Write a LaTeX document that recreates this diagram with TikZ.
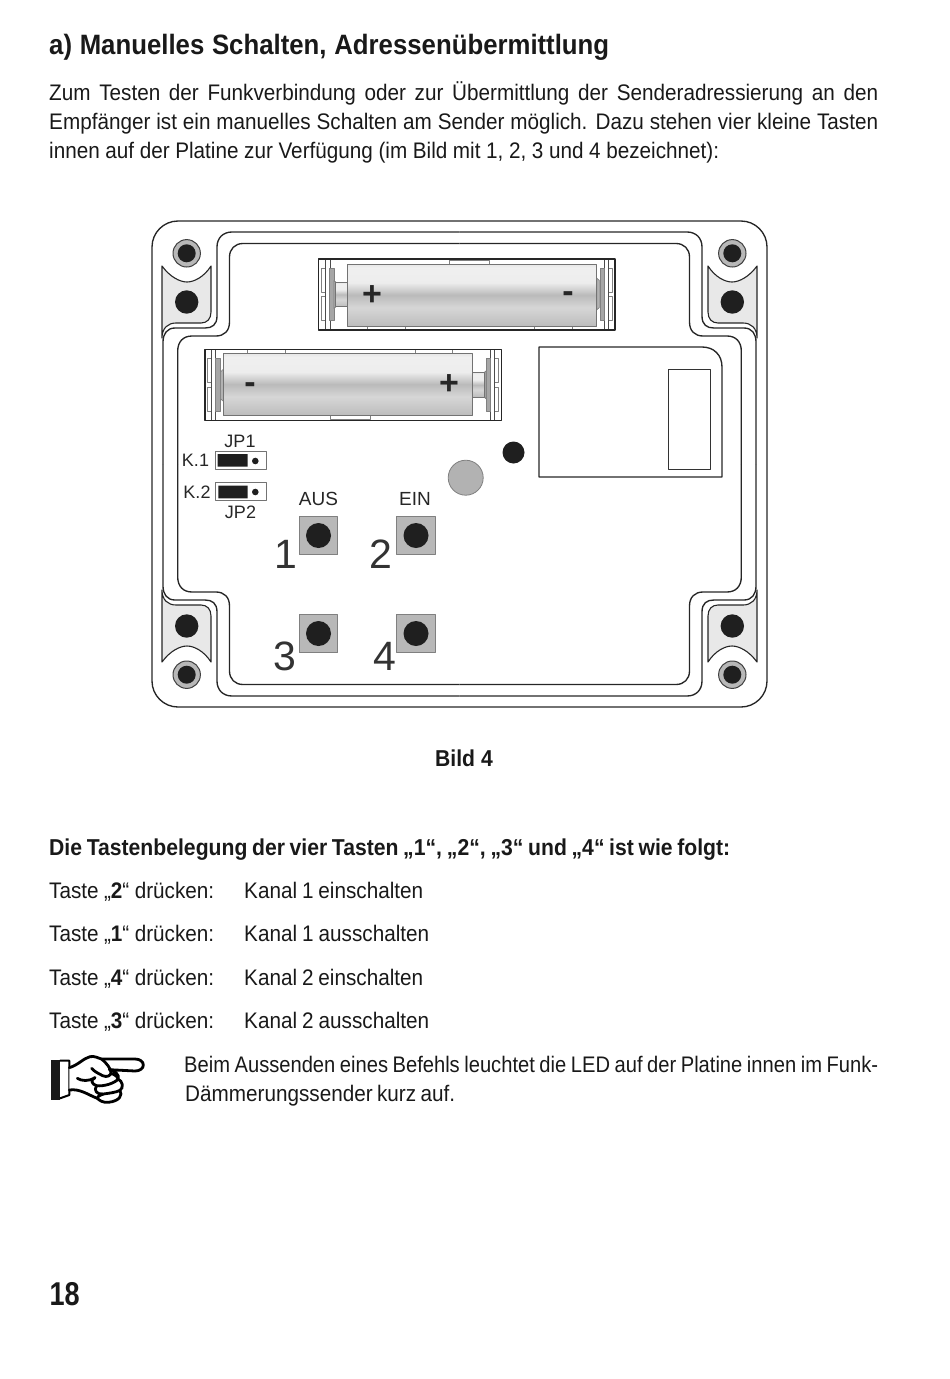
\documentclass[tikz,border=0pt]{standalone}
\usepackage{fontspec}
\setmainfont{Liberation Sans}
\newfontfamily\narrowfont[FakeStretch=0.92]{Liberation Sans}
\newfontfamily\notefont[FakeStretch=0.895]{Liberation Sans}
\newfontfamily\slimfont[FakeStretch=0.82]{Liberation Sans}
\pgfdeclareverticalshading{cellshade}{100bp}{color(0bp)=(black!40); color(12bp)=(black!35); color(25bp)=(black!26); color(40bp)=(black!16); color(50bp)=(black!27); color(60bp)=(black!7); color(72bp)=(black!6); color(86bp)=(black!24); color(100bp)=(black!38)}
\newcommand{\fitline}[2]{\makebox[#1][s]{#2}}
\newcommand{\cellholder}{%
\draw[tabline] (-145.4,-26.2) rectangle (-141,-2.2) (-145.4,2.2) rectangle (-141,26.2)
(141.6,-26.2) rectangle (146,-2.2) (141.6,2.2) rectangle (146,26.2)
(-17.4,-34.5) rectangle (22.6,-30.5) (-99.4,31.5) rectangle (-61.7,35.5) (67.6,31.5) rectangle (106,35.5);
\draw[thinline] (-141,-35.5)--(-141,35.5) (-136.7,-35.5)--(-136.7,35.5) (141.6,-35.5)--(141.6,35.5) (137.6,-35.5)--(137.6,35.5);
\draw[tabline,fill=black!35] (-137.4,-26.5) rectangle (-132.7,26.2) (133.3,-26.5) rectangle (137.6,26.2);
\draw[tabline,fill=black!30] (-132.7,-14)--(-130.5,-12)--(-130.5,12)--(-132.7,14)--cycle (130,-16.5)--(132.7,-14)--(132.7,13)--(130,15.5)--cycle;
\shade[shading=cellshade,draw=black!55,line width=0.6pt] (-131,-12.2) rectangle (-119,12.2);
\shade[shading=cellshade,draw=black!55,line width=0.6pt] (-119,-30.5) rectangle (130,31.5);
\draw[frameline] (-148.4,-35.5) rectangle (148.3,35.5);
}
\begin{document}
\begin{tikzpicture}[x=1pt,y=-1pt,line join=round,
frameline/.style={line width=1.35pt,black!85},
thinline/.style={line width=0.7pt,black!70},
tabline/.style={line width=0.6pt,black!50},
padfill/.style={draw=black!85,line width=1.1pt,fill=black!9},
hole/.style={fill=black!88},
btnpad/.style={draw=black!50,line width=0.7pt,fill=black!28},
txt/.style={anchor=base west,inner sep=0pt,font=\narrowfont\fontsize{22.5}{28}\selectfont,text=black!90},
notetxt/.style={txt,font=\notefont\fontsize{22.5}{28}\selectfont},
lbl/.style={inner sep=0pt,font=\fontsize{18}{20}\selectfont,text=black!85},
bignum/.style={inner sep=0pt,font=\fontsize{41}{44}\selectfont,text=black!80},
polarity/.style={inner sep=0pt,font=\bfseries\fontsize{34}{34}\selectfont,text=black!85},
handline/.style={line width=2.8pt,line cap=round,fill=white}]
\useasboundingbox (0,0) rectangle (950,1379);
% text above
\node[txt,font=\narrowfont\bfseries\fontsize{28}{30}\selectfont] (title) at (49,54) {\fitline{560pt}{a) Manuelles Schalten, Adressenübermittlung}};
\node[txt] (introa) at (49,100) {\fitline{829pt}{Zum Testen der Funkverbindung oder zur Übermittlung der Senderadressierung an den}};
\node[txt] (introb) at (49,129) {\fitline{829pt}{Empfänger ist ein manuelles Schalten am Sender möglich. Dazu stehen vier kleine Tasten}};
\node[txt] (introc) at (49,158) {\fitline{670pt}{innen auf der Platine zur Verfügung (im Bild mit 1, 2, 3 und 4 bezeichnet):}};
% housing
\draw[frameline] (152,221) [rounded corners=26pt] rectangle (767,707);
\foreach \sx/\sy in {1/1,-1/1,1/-1,-1/-1}{
\begin{scope}[shift={(459.5,464)},xscale=\sx,yscale=\sy,shift={(-459.5,-464)}]
\draw[padfill] (162,266) .. controls (170,277) and (180,282) .. (187,282) .. controls (194,282) and (204,277) .. (211,266)
--(211,312) .. controls (211,319) and (207,323) .. (201,323) --(176,323) .. controls (168,323) and (162,328) .. (162,338) --cycle;
\draw[frameline] (459.5,232)--(232,232) .. controls (223,232) and (217,238) .. (217,247) --(217,316) .. controls (217,325) and (212,328) .. (205,328)
--(175,328) .. controls (167,328) and (163,334) .. (163,342) --(163,464);
\draw[frameline] (459.5,243.5)--(243,243.5) .. controls (235,243.5) and (229.5,249) .. (229.5,257) --(229.5,322) .. controls (229.5,331) and (224,336) .. (216,336)
--(192,336) .. controls (183,336) and (177.7,342) .. (177.7,351) --(177.7,464);
\fill[hole] (186.7,302) circle (11.7);
\draw[line width=1pt,black!75,fill=black!28] (186.7,253.3) circle (13.7);
\fill[hole] (186.7,253.3) circle (9);
\end{scope}
}
% battery holders
\begin{scope}[shift={(466.7,294.5)}]
\cellholder
\end{scope}
\begin{scope}[shift={(353.3,384.8)},rotate=180]
\cellholder
\end{scope}
\node[polarity] (plusa) at (372,295.5) {+};
\node[polarity] (minusa) at (568,297) {-};
\node[polarity] (minusb) at (250,388) {-};
\node[polarity] (plusb) at (449,384.5) {+};
% radio module
\draw[frameline] (539,347)--(702,347) .. controls (714,347) and (722,355) .. (722,367)--(722,477)--(539,477)--cycle;
\draw[line width=1pt,black!80] (668,369) rectangle (710,469);
% jumpers
\draw[line width=0.7pt,black!55] (215,451.7) rectangle (266,469.3) (215,482.7) rectangle (266,500.7);
\fill[hole] (217.7,454) rectangle (247.7,466.7) (218.3,485.7) rectangle (247.7,498.3);
\fill[hole] (255.3,461) circle (3.3) (255.3,492) circle (3.3);
\node[lbl] (jpa) at (240,441.5) {JP1};
\node[lbl] (ka) at (195.5,460) {K.1};
\node[lbl] (kb) at (197,492) {K.2};
\node[lbl] (jpb) at (240.5,512) {JP2};
\node[lbl,font=\fontsize{19}{20}\selectfont] (aus) at (318.5,498.5) {AUS};
\node[lbl,font=\fontsize{19}{20}\selectfont] (ein) at (415,498.5) {EIN};
% led
\draw[line width=0.8pt,black!50,fill=black!30] (465.7,477.7) circle (17.5);
\fill[hole] (513.5,452.5) circle (11);
% keys
\foreach \x/\y in {318.5/535.5,416/535.5,318.5/633.5,416/633.5}{
\draw[btnpad] (\x-19.2,\y-19) rectangle (\x+19.2,\y+19);
\fill[hole] (\x,\y) circle (12.5);
}
\node[bignum] (numa) at (285.5,554.5) {1};
\node[bignum] (numb) at (381,554.5) {2};
\node[bignum] (numc) at (285,656.5) {3};
\node[bignum] (numd) at (385,656.5) {4};
% text below
\node[txt,anchor=base,font=\narrowfont\bfseries\fontsize{23}{28}\selectfont] (caption) at (464,766) {Bild 4};
\node[txt,font=\narrowfont\bfseries\fontsize{23}{28}\selectfont] (keyhead) at (49,855) {\fitline{681pt}{Die Tastenbelegung der vier Tasten „1“, „2“, „3“ und „4“ ist wie folgt:}};
\node[txt] (keya) at (49,898) {\fitline{165pt}{Taste „\textbf{2}“ drücken:}};
\node[txt] (kanala) at (244,898) {\fitline{179pt}{Kanal 1 einschalten}};
\node[txt] (keyb) at (49,941) {\fitline{165pt}{Taste „\textbf{1}“ drücken:}};
\node[txt] (kanalb) at (244,941) {\fitline{185pt}{Kanal 1 ausschalten}};
\node[txt] (keyc) at (49,985) {\fitline{165pt}{Taste „\textbf{4}“ drücken:}};
\node[txt] (kanalc) at (244,985) {\fitline{179pt}{Kanal 2 einschalten}};
\node[txt] (keyd) at (49,1028) {\fitline{165pt}{Taste „\textbf{3}“ drücken:}};
\node[txt] (kanald) at (244,1028) {\fitline{185pt}{Kanal 2 ausschalten}};
\node[notetxt] (notea) at (184,1072) {\fitline{694pt}{Beim Aussenden eines Befehls leuchtet die LED auf der Platine innen im Funk-}};
\node[txt] (noteb) at (185,1101) {\fitline{270pt}{Dämmerungssender kurz auf.}};
% pointing hand
\begin{scope}[shift={(40,1045)},x=0.3333pt,y=-0.3333pt]
\fill[black!90] (33,45) rectangle (60,165);
\draw[line width=2pt] (60,47)--(88,47)--(88,150)--(60,160);
\draw[handline] (88,68) .. controls (115,60) and (130,40) .. (150,35) .. controls (165,32) and (175,40) .. (185,42)
--(285,42) .. controls (300,42) and (310,50) .. (310,60) .. controls (310,70) and (300,78) .. (285,78) --(208,74) .. controls (225,78) and (240,90) .. (234,102)
.. controls (248,108) and (252,128) .. (240,136) .. controls (248,150) and (240,168) .. (205,172) .. controls (190,173) and (180,168) .. (172,160) .. controls (145,150) and (120,130) .. (88,135);
\draw[handline,fill=none] (185,42) .. controls (200,55) and (212,70) .. (213,82) .. controls (214,92) and (200,98) .. (188,92) .. controls (175,85) and (163,80) .. (155,70);
\draw[handline,fill=none] (112,100) .. controls (125,108) and (145,110) .. (165,98);
\draw[handline,fill=none] (213,85) .. controls (225,88) and (235,98) .. (234,102) .. controls (225,115) and (190,125) .. (170,122) .. controls (155,118) and (150,105) .. (165,98);
\draw[handline,fill=none] (170,122) .. controls (160,135) and (170,150) .. (190,147) .. controls (205,145) and (230,142) .. (240,136);
\draw[handline,fill=none] (190,147) .. controls (178,152) and (170,155) .. (172,160);
\end{scope}
% page number
\node[txt,font=\slimfont\bfseries\fontsize{33}{35}\selectfont] (pagenum) at (49.5,1305) {18};
\end{tikzpicture}
\end{document}
